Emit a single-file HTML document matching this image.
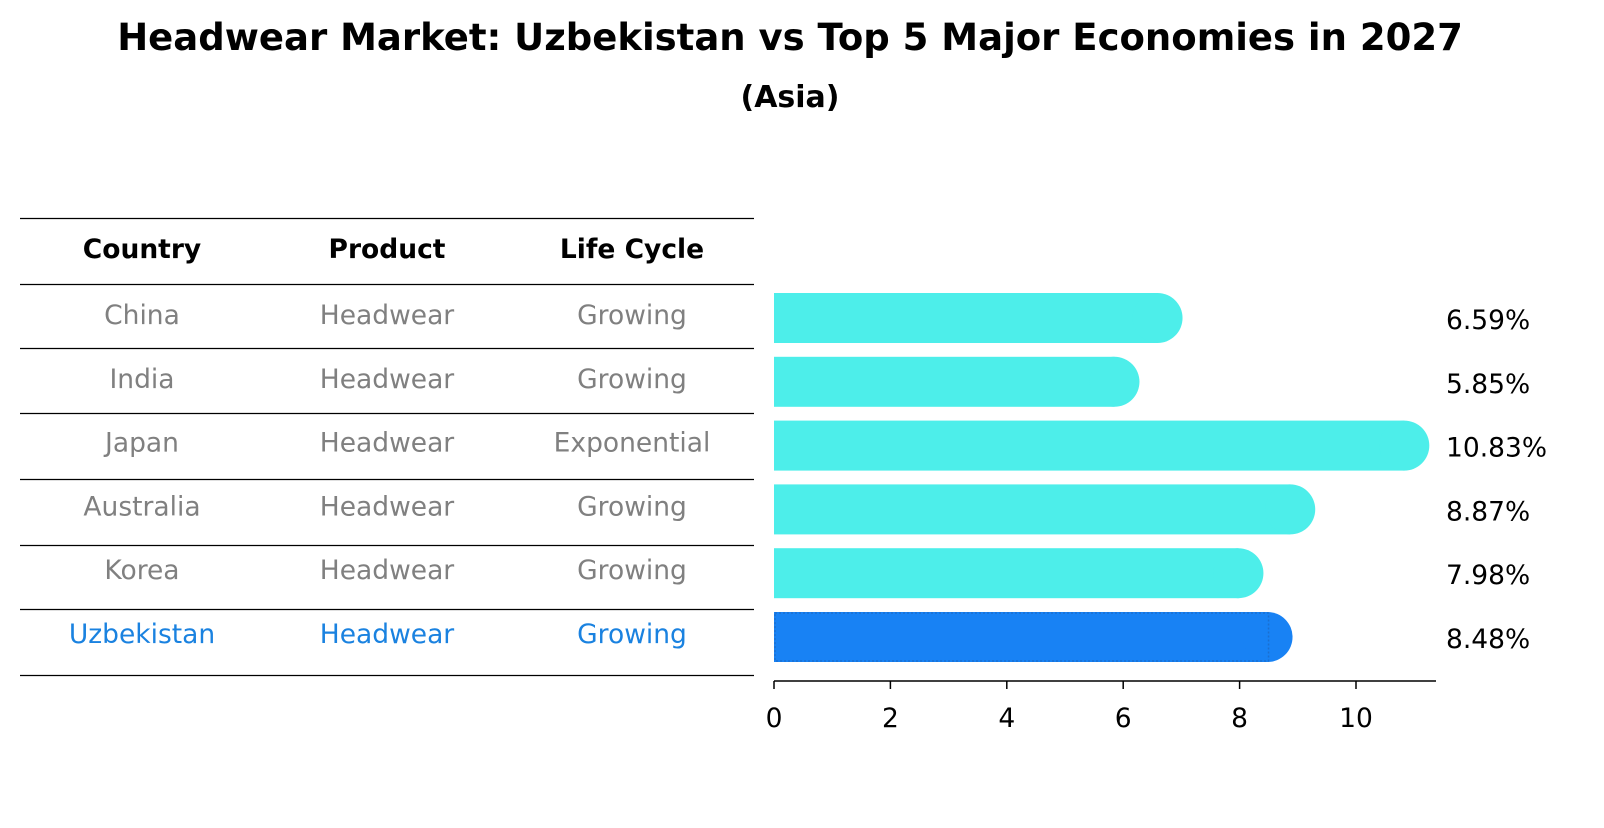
<!DOCTYPE html>
<html><head><meta charset="utf-8"><style>
body{margin:0;background:#fff;font-family:"Liberation Sans","DejaVu Sans",sans-serif;}
svg text{font-family:"DejaVu Sans","Liberation Sans",sans-serif;}
</style></head><body>
<svg id="chart" width="1604" height="823" xmlns="http://www.w3.org/2000/svg">
<text x="790" y="50" text-anchor="middle" font-size="37" font-weight="bold">Headwear Market: Uzbekistan vs Top 5 Major Economies in 2027</text>
<text x="790" y="107" text-anchor="middle" font-size="30" font-weight="bold">(Asia)</text>
<g id="table"></g>
<g id="bars"></g>
<g id="axis"></g>
</svg>
<script>
const countries=["China","India","Japan","Australia","Korea","Uzbekistan"];
const products=["Headwear","Headwear","Headwear","Headwear","Headwear","Headwear"];
const lifecycles=["Growing","Growing","Exponential","Growing","Growing","Growing"];
const values=[6.59,5.85,10.83,8.87,7.98,8.48];
const ticks=[0,2,4,6,8,10];
const NS="http://www.w3.org/2000/svg";
const x0=774, pxPer=58.2;
const xs=v=>x0+v*pxPer;
const rowY=i=>318+i*63.8;
const FS=26.5;
function mk(tag,attrs,parent){const e=document.createElementNS(NS,tag);for(const k in attrs)e.setAttribute(k,attrs[k]);parent.appendChild(e);return e;}
const table=document.getElementById('table');
const lineYs=[218,284,348,413,479,545,609,675];
lineYs.forEach(y=>{const l=mk('line',{x1:20,x2:754,y1:y+0.5,y2:y+0.5,stroke:'#000','stroke-width':1.2},table);

});
const colX=[142,387,632];
["Country","Product","Life Cycle"].forEach((h,j)=>{const t=mk('text',{x:colX[j],y:258,'text-anchor':'middle','font-size':FS,'font-weight':'bold'},table);t.textContent=h;

});
countries.forEach((c,i)=>{const col=i===countries.length-1?'#1a82e0':'#808080';
[c,products[i],lifecycles[i]].forEach((s,j)=>{const t=mk('text',{x:colX[j],y:rowY(i)+6,'text-anchor':'middle','font-size':FS,fill:col},table);t.textContent=s;

});});
const bars=document.getElementById('bars');
const h=50;
values.forEach((v,i)=>{const last=i===values.length-1;const col=last?'#1882f4':'#4deeea';
const y=rowY(i)-h/2;const xe=xs(v);
const g=mk('g',{},bars);


mk('rect',{x:x0,y:y,width:xe-x0,height:h,fill:col},g);
mk('circle',{cx:xe,cy:rowY(i),r:h/2,fill:col},g);
if(last){mk('rect',{x:x0+1,y:y+1,width:xe-x0,height:h-2,fill:'none',stroke:'#1a6fd0','stroke-width':1.5,'stroke-dasharray':'2 2'},g);}
const t=mk('text',{x:1446,y:rowY(i)+11,'font-size':FS},bars);t.textContent=v.toFixed(2)+'%';

});
const axis=document.getElementById('axis');
mk('line',{x1:x0,x2:1436,y1:681,y2:681,stroke:'#000','stroke-width':1.5},axis);
ticks.forEach(tv=>{mk('line',{x1:xs(tv),x2:xs(tv),y1:681,y2:689,stroke:'#000','stroke-width':1.5},axis);
const t=mk('text',{x:xs(tv),y:727,'text-anchor':'middle','font-size':FS},axis);t.textContent=tv;

});
</script>
</body></html>
